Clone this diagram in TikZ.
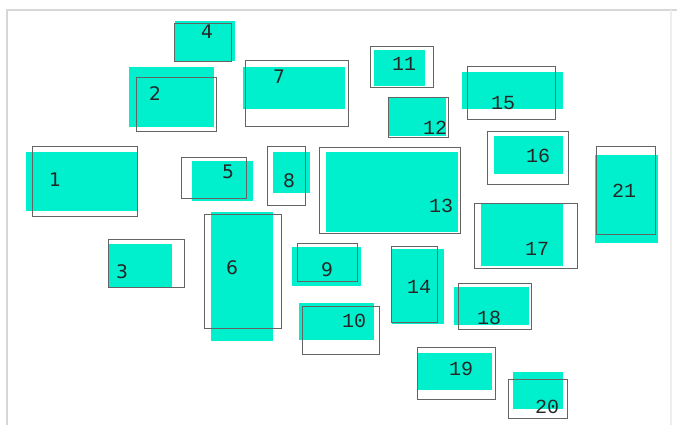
\documentclass[tikz,border=0pt]{standalone}
\usepackage{fontspec}
\newfontfamily\lblsans{DejaVu Sans}
\newfontfamily\lblmono{Liberation Mono}
\definecolor{turq}{RGB}{0,240,205}
\definecolor{rimgray}{RGB}{100,100,100}
\definecolor{framegray}{RGB}{215,215,215}
\tikzset{
  patch/.style={fill=turq, draw=none},
  rim/.style={draw=rimgray, line width=0.75pt},
  tag/.style={inner sep=0pt, font=\lblsans\fontsize{14}{15}\selectfont, text=black!85},
  tagmono/.style={inner sep=0pt, font=\lblmono\fontsize{15}{16}\selectfont, text=black!85},
}
\begin{document}
\begin{tikzpicture}[x=0.75pt, y=-0.75pt]
    \useasboundingbox (0,0) rectangle (677,425);
    % frame
    \draw[framegray, line width=1.2pt] (7,425) -- (7,10) -- (677,10);
    \draw[black!7, line width=1pt] (671,10) -- (671,425);
    % box 1
    \fill[patch] (26,152) rectangle (137,211);
    \draw[rim] (32,146) rectangle (137,216);
    \node[tag] (t1) at (55,180) {1};
    % box 2
    \fill[patch] (129,67) rectangle (214,127);
    \draw[rim] (136,77) rectangle (216,131);
    \node[tag] (t2) at (155,94) {2};
    % box 3
    \fill[patch] (109,244) rectangle (172,287);
    \draw[rim] (108,239) rectangle (184,287);
    \node[tag] (t3) at (122,272) {3};
    % box 4
    \fill[patch] (175,21) rectangle (235,61);
    \draw[rim] (174,23) rectangle (231,61);
    \node[tag] (t4) at (207,32) {4};
    % box 5
    \fill[patch] (192,161) rectangle (253,201);
    \draw[rim] (181,157) rectangle (246,198);
    \node[tag] (t5) at (228,172) {5};
    % box 6
    \fill[patch] (211,212) rectangle (273,341);
    \draw[rim] (204,214) rectangle (281,328);
    \node[tag] (t6) at (232,268) {6};
    % box 7
    \fill[patch] (243,67) rectangle (345,109);
    \draw[rim] (245,60) rectangle (348,126);
    \node[tag] (t7) at (279,77) {7};
    % box 8
    \fill[patch] (273,152) rectangle (310,193);
    \draw[rim] (267,146) rectangle (305,205);
    \node[tag] (t8) at (289,181) {8};
    % box 9
    \fill[patch] (292,247) rectangle (361,286);
    \draw[rim] (297,243) rectangle (357,281);
    \node[tag] (t9) at (327,270) {9};
    % box 10
    \fill[patch] (299,303) rectangle (374,340);
    \draw[rim] (302,306) rectangle (379,354);
    \node[tagmono] (t10) at (354,321) {10};
    % box 11
    \fill[patch] (374,50) rectangle (425,86);
    \draw[rim] (370,46) rectangle (433,87);
    \node[tagmono] (t11) at (404,64) {11};
    % box 12
    \fill[patch] (389,98) rectangle (446,136);
    \draw[rim] (388,97) rectangle (448,137);
    \node[tagmono] (t12) at (435,128) {12};
    % box 13
    \fill[patch] (326,152) rectangle (458,232);
    \draw[rim] (319,147) rectangle (460,233);
    \node[tagmono] (t13) at (441,206) {13};
    % box 14
    \fill[patch] (392,249) rectangle (444,324);
    \draw[rim] (391,246) rectangle (437,322);
    \node[tagmono] (t14) at (419,287) {14};
    % box 15
    \fill[patch] (462,72) rectangle (563,109);
    \draw[rim] (467,66) rectangle (555,119);
    \node[tagmono] (t15) at (503,103) {15};
    % box 16
    \fill[patch] (494,136) rectangle (563,174);
    \draw[rim] (487,131) rectangle (568,184);
    \node[tagmono] (t16) at (538,156) {16};
    % box 17
    \fill[patch] (481,204) rectangle (563,266);
    \draw[rim] (474,203) rectangle (577,268);
    \node[tagmono] (t17) at (537,249) {17};
    % box 18
    \fill[patch] (454,287) rectangle (529,325);
    \draw[rim] (458,283) rectangle (531,329);
    \node[tagmono] (t18) at (489,318) {18};
    % box 19
    \fill[patch] (417,353) rectangle (492,390);
    \draw[rim] (417,347) rectangle (495,399);
    \node[tagmono] (t19) at (461,369) {19};
    % box 20
    \fill[patch] (513,372) rectangle (563,409);
    \draw[rim] (508,379) rectangle (567,418);
    \node[tagmono] (t20) at (547,407) {20};
    % box 21
    \fill[patch] (595,155) rectangle (658,243);
    \draw[rim] (596,146) rectangle (655,234);
    \node[tagmono] (t21) at (624,191) {21};
\end{tikzpicture}
\end{document}
